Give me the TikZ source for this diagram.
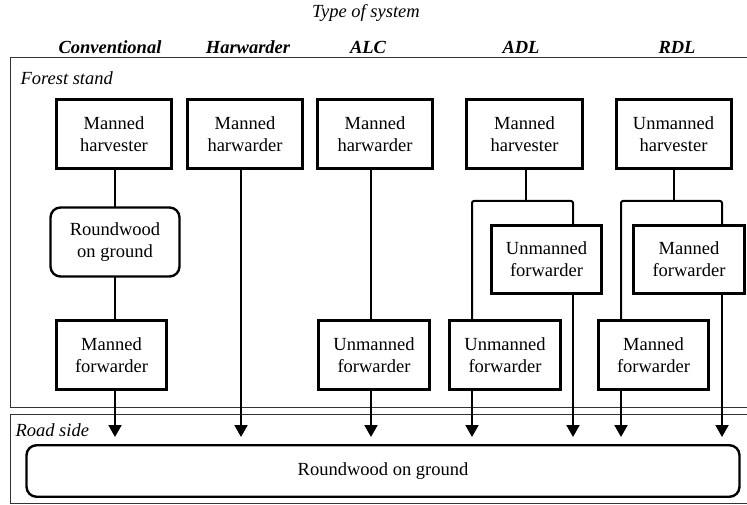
\documentclass[tikz,border=0pt]{standalone}
\usepackage{fontspec}
\setmainfont{Liberation Serif}
\usetikzlibrary{arrows.meta}
\begin{document}
\begin{tikzpicture}[x=1pt,y=-1pt,
  font=\fontsize{18.5}{22}\selectfont,
  machine/.style={draw, line width=3pt, align=center, inner sep=0pt, outer sep=0pt},
  pile/.style={draw, line width=2.4pt, rounded corners=10pt, align=center, inner sep=0pt, outer sep=0pt},
  zone/.style={draw=black!80, line width=0.9pt},
  hdr/.style={font=\fontsize{18.5}{22}\selectfont\bfseries\itshape, anchor=base},
  zonelabel/.style={font=\fontsize{18.5}{22}\selectfont\itshape, anchor=base west},
  link/.style={line width=2pt, line join=round},
  feed/.style={line width=2pt, -{Triangle[length=12pt, width=13pt]}}]

\useasboundingbox (0,0) rectangle (747,505);

% Zones
\draw[zone] (10,57) rectangle (770,407);
\draw[zone] (10,414) rectangle (770,503);
\node[zonelabel] (lforest) at (17,85) {Forest stand};
\node[zonelabel] (lroad) at (12,436) {Road side};

% Titles
\node[font=\fontsize{18.5}{22}\selectfont\itshape, anchor=base] (title) at (366,18) {Type of system};
\node[hdr] (hconv) at (110,54) {Conventional};
\node[hdr] (hharw) at (248,54) {Harwarder};
\node[hdr] (halc) at (368,54) {ALC};
\node[hdr] (hadl) at (521,54) {ADL};
\node[hdr] (hrdl) at (677,54) {RDL};

% Conventional
\node[machine, minimum width=115, minimum height=69] (convh) at (114,134) {Manned\\harvester};
\node[pile, minimum width=129, minimum height=69] (convp) at (115,242) {Roundwood\\on ground};
\node[machine, minimum width=110, minimum height=69] (convf) at (111.5,355) {Manned\\forwarder};

% Harwarder
\node[machine, minimum width=115, minimum height=69] (harw) at (245,134) {Manned\\harwarder};

% ALC
\node[machine, minimum width=115, minimum height=69] (alch) at (375,134) {Manned\\harwarder};
\node[machine, minimum width=111, minimum height=69] (alcf) at (374,355) {Unmanned\\forwarder};

% ADL
\node[machine, minimum width=116, minimum height=69] (adlh) at (524.5,134) {Manned\\harvester};
\node[machine, minimum width=110, minimum height=68] (adlu) at (546.5,259.5) {Unmanned\\forwarder};
\node[machine, minimum width=111, minimum height=69] (adll) at (505,355) {Unmanned\\forwarder};

% RDL
\node[machine, minimum width=115, minimum height=69] (rdlh) at (673.5,134) {Unmanned\\harvester};
\node[machine, minimum width=111, minimum height=68] (rdlu) at (689,259.5) {Manned\\forwarder};
\node[machine, minimum width=110, minimum height=69] (rdll) at (653.5,355) {Manned\\forwarder};

% Road side pile
\node[pile, minimum width=713, minimum height=51.5] (road) at (383,471) {Roundwood on ground};

% Column lines, junctions and arrow ends
\coordinate (tips) at (0,437);
\coordinate (cconv) at (115,0);
\coordinate (charw) at (241,0);
\coordinate (calc) at (371,0);
\coordinate (adlstem) at (526,201);
\coordinate (adlL) at (472,201);
\coordinate (adlR) at (573,201);
\coordinate (rdlstem) at (674,201);
\coordinate (rdlL) at (621,201);
\coordinate (rdlR) at (722,201);

% Conventional flow
\draw[link] (convh.south -| cconv) -- (convp.north -| cconv);
\draw[link] (convp.south -| cconv) -- (convf.north -| cconv);
\draw[feed] (convf.south -| cconv) -- (cconv |- tips);

% Harwarder flow
\draw[feed] (harw.south -| charw) -- (charw |- tips);

% ALC flow
\draw[link] (alch.south -| calc) -- (alcf.north -| calc);
\draw[feed] (alcf.south -| calc) -- (calc |- tips);

% ADL flow
\draw[link] (adlh.south -| adlstem) -- (adlstem);
\draw[link, rounded corners=2pt] (adll.north -| adlL) -- (adlL) -- (adlR) -- (adlu.north -| adlR);
\draw[feed] (adlu.south -| adlR) -- (adlR |- tips);
\draw[feed] (adll.south -| adlL) -- (adlL |- tips);

% RDL flow
\draw[link] (rdlh.south -| rdlstem) -- (rdlstem);
\draw[link, rounded corners=2pt] (rdll.north -| rdlL) -- (rdlL) -- (rdlR) -- (rdlu.north -| rdlR);
\draw[feed] (rdlu.south -| rdlR) -- (rdlR |- tips);
\draw[feed] (rdll.south -| rdlL) -- (rdlL |- tips);

\end{tikzpicture}
\end{document}
